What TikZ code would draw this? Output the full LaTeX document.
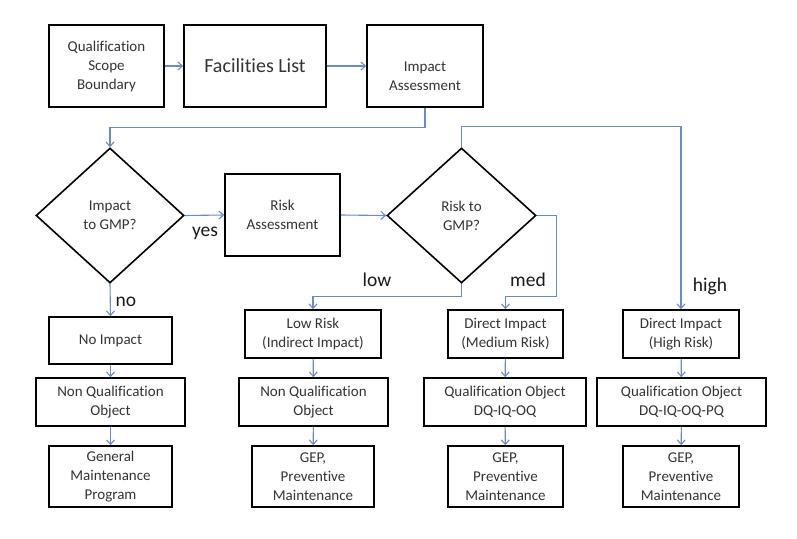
\documentclass[tikz,border=0pt]{standalone}
\usepackage{fontspec}
\setmainfont{Carlito}[Ligatures=NoCommon]
\usepackage{xcolor}
\usepackage{tikz}
\usetikzlibrary{arrows.meta,shapes.geometric}
\definecolor{lnblue}{RGB}{104,140,198}
\tikzset{
  box/.style={draw,line width=1.6pt,align=center,inner sep=1pt,text=black!80,font=\fontsize{15}{19}\selectfont},
  dec/.style={box,diamond,inner sep=0pt,minimum width=148pt,minimum height=135pt},
  ln/.style={draw=lnblue,line width=1.1pt},
  arr/.style={ln,-{Straight Barb[length=4.5pt,width=8pt]}},
  lab/.style={text=black!90,font=\fontsize{19.5}{23}\selectfont,inner sep=0pt}
}
\begin{document}
\begin{tikzpicture}[x=1pt,y=-1pt]
\useasboundingbox (0,0) rectangle (797,538);
% top row
\node[box,minimum width=115pt,minimum height=82pt] (qsb) at (106.5,66) {Qualification\\Scope\\Boundary};
\node[box,minimum width=142pt,minimum height=82pt,font=\fontsize{20}{24}\selectfont] (fl) at (255,66) {Facilities List};
\node[box,minimum width=116pt,minimum height=82pt] (ia) at (425,66) {\rule{0pt}{12pt}\\Impact\\Assessment};
% decisions
\node[dec] (d1) at (110,215.5) {Impact\\to GMP?};
\node[box,minimum width=115pt,minimum height=82pt] (ra) at (282.5,215) {Risk\\Assessment};
\node[dec,minimum width=149pt] (d2) at (461.5,215.5) {Risk to\\GMP?};
% columns
\node[box,minimum width=123pt,minimum height=47pt] (ni) at (110.5,340.5) {No Impact};
\node[box,minimum width=149pt,minimum height=48pt] (nq1) at (110.5,402) {Non Qualification\\Object};
\node[box,minimum width=123pt,minimum height=61pt] (gm) at (110.5,476.5) {General\\Maintenance\\Program};
\node[box,minimum width=136pt,minimum height=48pt] (lr) at (313,334) {Low Risk\\(Indirect Impact)};
\node[box,minimum width=149pt,minimum height=48pt] (nq2) at (313.5,402) {Non Qualification\\Object};
\node[box,minimum width=122pt,minimum height=61pt] (gep1) at (313,476.5) {GEP,\\Preventive\\Maintenance};
\node[box,minimum width=115pt,minimum height=48pt] (dm) at (505.5,334) {Direct Impact\\(Medium Risk)};
\node[box,minimum width=162pt,minimum height=48pt] (qo1) at (505,402) {Qualification Object\\DQ-IQ-OQ};
\node[box,minimum width=115pt,minimum height=61pt] (gep2) at (505.5,476.5) {GEP,\\Preventive\\Maintenance};
\node[box,minimum width=116pt,minimum height=48pt] (dh) at (681,334) {Direct Impact\\(High Risk)};
\node[box,minimum width=169pt,minimum height=48pt] (qo2) at (681.5,402) {Qualification Object\\DQ-IQ-OQ-PQ};
\node[box,minimum width=116pt,minimum height=61pt] (gep3) at (681,476.5) {GEP,\\Preventive\\Maintenance};
% labels
\node[lab] (yes) at (205,233) {yes};
\node[lab] (no) at (126,302) {no};
\node[lab] (low) at (377,280) {low};
\node[lab] (med) at (528,280) {med};
\node[lab] (high) at (710,286) {high};
% connectors
\draw[arr] (qsb) -- (fl);
\draw[arr] (fl) -- (ia);
\draw[arr] (ia.south) -- ++(0,20) -| (d1.north);
\draw[arr] (d1.east) -- (ra.west);
\draw[arr] (ra.east) -- (d2.west);
\draw[arr] (d1.south) -- (ni.north);
\draw[arr] (d2.south) -- ++(0,13) -| (lr.north);
\draw[arr] (d2.east) -- ++(20,0) -- ++(0,81) -| (dm.north);
\draw[arr] (d2.north) -- ++(0,-21) -| (dh.north);
\foreach \a/\b in {ni/nq1,nq1/gm,lr/nq2,nq2/gep1,dm/qo1,qo1/gep2,dh/qo2,qo2/gep3}
  \draw[arr] (\a) -- (\b);
\end{tikzpicture}
\end{document}
